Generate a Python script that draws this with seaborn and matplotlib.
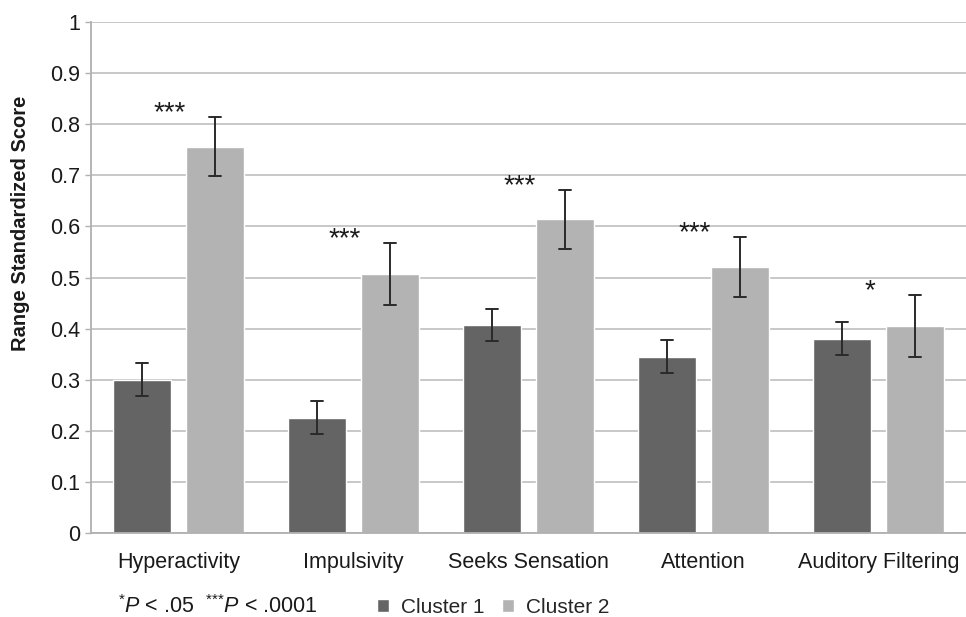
import matplotlib
matplotlib.use("Agg")
import matplotlib.pyplot as plt
import seaborn as sns
import pandas as pd
import numpy as np
from matplotlib.patches import Patch

categories = ["Hyperactivity", "Impulsivity", "Seeks Sensation", "Attention", "Auditory Filtering"]
cluster1 = [0.300, 0.226, 0.407, 0.345, 0.380]
cluster1_err = [0.032, 0.032, 0.032, 0.032, 0.032]
cluster2 = [0.756, 0.507, 0.614, 0.520, 0.405]
cluster2_err = [0.058, 0.060, 0.058, 0.059, 0.060]
stars = ["***", "***", "***", "***", "*"]
yticks = [0, 0.1, 0.2, 0.3, 0.4, 0.5, 0.6, 0.7, 0.8, 0.9, 1]
ytick_labels = ["0", "0.1", "0.2", "0.3", "0.4", "0.5", "0.6", "0.7", "0.8", "0.9", "1"]

rows = []
for cat, m, e in zip(categories, cluster1, cluster1_err):
    rows += [(cat, "Cluster 1", m - e), (cat, "Cluster 1", m + e)]
for cat, m, e in zip(categories, cluster2, cluster2_err):
    rows += [(cat, "Cluster 2", m - e), (cat, "Cluster 2", m + e)]
df = pd.DataFrame(rows, columns=["category", "cluster", "score"])

sns.set_theme(style="white")
plt.rcParams["font.family"] = ["Liberation Sans", "DejaVu Sans"]
plt.rcParams["mathtext.fontset"] = "custom"
plt.rcParams["mathtext.rm"] = "Liberation Sans"
plt.rcParams["mathtext.it"] = "Liberation Sans:italic"

fig = plt.figure(figsize=(9.66, 6.17), dpi=100)
ax = fig.add_axes([0.0942, 0.1361, 0.9058, 0.8282])

palette = {"Cluster 1": "#646464", "Cluster 2": "#b3b3b3"}
sns.barplot(data=df, x="category", y="score", hue="cluster", order=categories,
            palette=palette, width=0.835, gap=0.2, saturation=1,
            errorbar=lambda v: (v.min(), v.max()), capsize=0.14,
            err_kws={"color": "#2a2a2a", "linewidth": 1.4}, ax=ax, legend=False)
for ln in ax.lines:
    ln.set_zorder(5)

TXT = "#1a1a1a"
ax.set_ylim(0, 1)
ax.set_xlim(-0.5, len(categories) - 0.5)
ax.set_yticks(yticks)
ax.set_yticklabels(ytick_labels, fontsize=15.5, color=TXT)
ax.tick_params(axis="y", length=4, width=1, color="#b0b0b0", pad=4, left=True)
ax.tick_params(axis="x", length=0, pad=14, labelsize=15.5, labelcolor=TXT)
ax.set_xlabel("")
ax.set_ylabel("Range Standardized Score", fontsize=14.5, fontweight="bold", color=TXT)
ax.yaxis.set_label_coords(-0.070, 0.607)
ax.yaxis.grid(True, color="#c4c4c4", linewidth=1.3)
ax.set_axisbelow(True)
for s in ["top", "right"]:
    ax.spines[s].set_visible(False)
for s in ["left", "bottom"]:
    ax.spines[s].set_color("#b0b0b0")
    ax.spines[s].set_linewidth(1.3)

# significance stars
for i, (st, m, e) in enumerate(zip(stars, cluster2, cluster2_err)):
    ax.text(i - 0.05, m + e - 0.018, st, ha="center", va="bottom", fontsize=20, color=TXT)

# footnote and legend
fig.text(0.122, 0.0065, r"$^{{*}}\mathit{P}$ < .05  $^{{*}{*}{*}}\mathit{P}$ < .0001", fontsize=15.5,
         color=TXT, ha="left", va="baseline")
handles = [Patch(facecolor=palette["Cluster 1"]), Patch(facecolor=palette["Cluster 2"])]
fig.legend(handles, ["Cluster 1", "Cluster 2"], loc="center left", bbox_to_anchor=(0.390, 0.0162),
           ncol=2, frameon=False, fontsize=15, handlelength=0.6, handleheight=0.6,
           handletextpad=0.55, columnspacing=0.85, borderpad=0, borderaxespad=0)

fig.savefig("out.png", dpi=100)
